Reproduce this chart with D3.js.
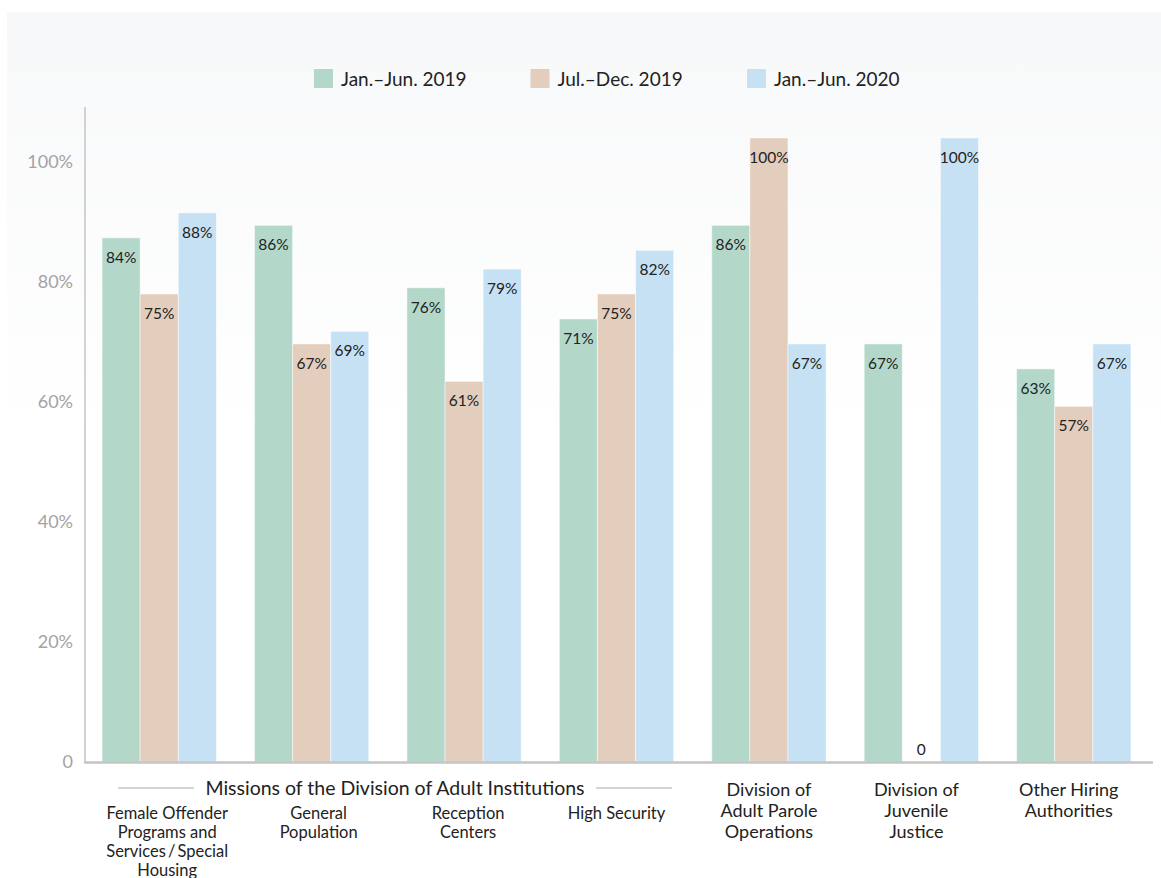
<!DOCTYPE html>
<html>
<head>
<meta charset="utf-8">
<script src="https://cdn.jsdelivr.net/npm/d3@7"></script>
<style>
  html, body { margin: 0; padding: 0; background: #fff; }
  svg { display: block; font-family: Lato, "Open Sans", sans-serif; }
</style>
</head>
<body>
<div id="chart"></div>
<script>
// ---- data ----
const groups = ["female", "general", "reception", "high", "parole", "juvenile", "other"];
const groupLabels = [
  ["Female Offender", "Programs and", "Services\u2009/\u2009Special", "Housing"],
  ["General", "Population"],
  ["Reception", "Centers"],
  ["High Security"],
  ["Division of", "Adult Parole", "Operations"],
  ["Division of", "Juvenile", "Justice"],
  ["Other Hiring", "Authorities"]
];
const series = ["Jan.\u2013Jun. 2019", "Jul.\u2013Dec. 2019", "Jan.\u2013Jun. 2020"];
const jan2019 = [84, 86, 76, 71, 86, 67, 63];
const jul2019 = [75, 67, 61, 75, 100, 0, 57];
const jan2020 = [88, 69, 79, 82, 67, 100, 67];
const yTicks = [0, 20, 40, 60, 80, 100];
const missionsTitle = "Missions of the Division of Adult Institutions";

const colors = ["#b3d8ca", "#e3cdbc", "#c7e1f4"];
// small horizontal nudges of the category labels, as in the original layout
const labelShift = [8, 7, 4, 0, 0, -5, -5];

const width = 1161;
const height = 878;

const svg = d3.select("#chart")
  .append("svg")
  .attr("width", width)
  .attr("height", height);

// faint gray panel at the top fading to white
const grad = svg.append("defs").append("linearGradient")
  .attr("id", "bg").attr("x1", 0).attr("x2", 0).attr("y1", 0).attr("y2", 1);
grad.append("stop").attr("offset", "0%").attr("stop-color", "#f7f8f9");
grad.append("stop").attr("offset", "100%").attr("stop-color", "#ffffff");
svg.append("rect")
  .attr("x", 7).attr("y", 12)
  .attr("width", width - 7).attr("height", 420)
  .attr("fill", "url(#bg)");

// scales
const x = d3.scaleBand().domain(groups).range([83, 1150]).paddingInner(0.25).paddingOuter(0.125);
const xs = d3.scaleBand().domain(d3.range(series.length)).range([0, x.bandwidth()]);
const yBar = d3.scaleLinear().domain([0, 100]).range([762, 138]);
const yTick = d3.scaleLinear().domain([0, 100]).range([761, 161]);

const table = groups.map((g, i) => ({
  group: g,
  values: [jan2019[i], jul2019[i], jan2020[i]]
}));

// y axis line + tick labels
svg.append("line")
  .attr("x1", 85).attr("x2", 85)
  .attr("y1", 107).attr("y2", yBar(0))
  .attr("stroke", "#c4c4c4").attr("stroke-width", 1.5);

svg.selectAll(".tick-label")
  .data(yTicks)
  .join("text")
  .attr("class", "tick-label")
  .attr("x", 73)
  .attr("y", d => yTick(d))
  .attr("text-anchor", "end")
  .attr("dominant-baseline", "central")
  .attr("fill", "#a3a3a3")
  .attr("font-size", "18px")
  .text(d => d === 0 ? "0" : d + "%");

// bars
const gGroup = svg.selectAll(".group")
  .data(table)
  .join("g")
  .attr("class", "group")
  .attr("transform", d => `translate(${x(d.group)},0)`);

gGroup.selectAll("rect")
  .data(d => d.values)
  .join("rect")
  .attr("x", (d, i) => xs(i))
  .attr("y", d => yBar(d))
  .attr("width", xs.bandwidth())
  .attr("height", d => yBar(0) - yBar(d))
  .attr("fill", (d, i) => colors[i])
  .attr("stroke", "rgba(255,255,255,0.5)")
  .attr("stroke-width", 1);

gGroup.selectAll(".bar-label")
  .data(d => d.values)
  .join("text")
  .attr("class", "bar-label")
  .attr("x", (d, i) => xs(i) + xs.bandwidth() / 2)
  .attr("y", d => d === 0 ? yBar(0) - 7 : yBar(d) + 25)
  .attr("text-anchor", "middle")
  .attr("fill", "#222")
  .attr("font-size", "15.5px")
  .text(d => d === 0 ? "0" : d + "%");

// baseline
svg.append("line")
  .attr("x1", 84).attr("x2", 1153)
  .attr("y1", yBar(0) + 0.5).attr("y2", yBar(0) + 0.5)
  .attr("stroke", "#c4c4c4").attr("stroke-width", 2.5);

// legend
const legend = svg.selectAll(".legend")
  .data(series)
  .join("g")
  .attr("class", "legend")
  .attr("transform", (d, i) => `translate(${314 + i * 216.5},69)`);
legend.append("rect")
  .attr("width", 19).attr("height", 19)
  .attr("fill", (d, i) => colors[i]);
legend.append("text")
  .attr("x", 27).attr("y", 9.5)
  .attr("dominant-baseline", "central")
  .attr("fill", "#222")
  .attr("font-size", "19px")
  .text(d => d);

// missions bracket label
svg.append("text")
  .attr("x", 395).attr("y", 787)
  .attr("text-anchor", "middle")
  .attr("dominant-baseline", "central")
  .attr("fill", "#222")
  .attr("font-size", "19.5px")
  .text(missionsTitle);
svg.append("line").attr("x1", 118).attr("x2", 194).attr("y1", 788).attr("y2", 788)
  .attr("stroke", "#aaa").attr("stroke-width", 1);
svg.append("line").attr("x1", 596).attr("x2", 672).attr("y1", 788).attr("y2", 788)
  .attr("stroke", "#aaa").attr("stroke-width", 1);

// category labels
svg.selectAll(".cat-label")
  .data(groups)
  .join("text")
  .attr("class", "cat-label")
  .attr("y", (d, i) => i < 4 ? 813 : 790)
  .attr("text-anchor", "middle")
  .attr("fill", "#222")
  .attr("font-size", (d, i) => i < 4 ? "16.5px" : "18px")
  .each(function(d, i) {
    const lh = i < 4 ? 19 : 21;
    const cx = x(d) + x.bandwidth() / 2 + labelShift[i];
    d3.select(this).selectAll("tspan")
      .data(groupLabels[i])
      .join("tspan")
      .attr("x", cx)
      .attr("dy", (t, j) => j === 0 ? "0.35em" : lh)
      .text(t => t);
  });
</script>
</body>
</html>
